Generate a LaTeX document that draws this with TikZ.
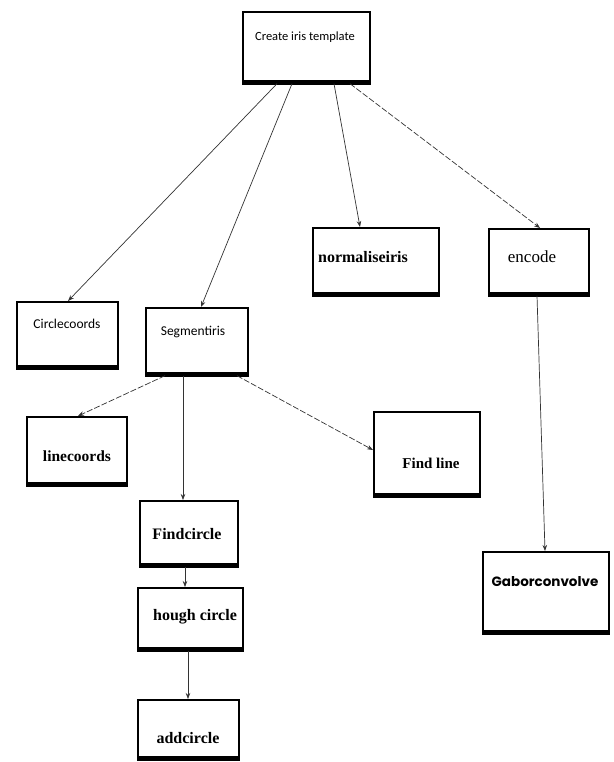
\documentclass[tikz,border=0pt]{standalone}
\usepackage{fontspec}
\setmainfont{Liberation Serif}
\newfontfamily\carl{Carlito}
\newfontfamily\gab{Poppins}
\usetikzlibrary{arrows.meta}
\begin{document}
\begin{tikzpicture}[x=1pt,y=-1pt,
  box/.style={draw=black,line width=2.2pt,fill=white,inner sep=0pt,anchor=north west},
  lab/.style={inner sep=0pt,anchor=base},
  conn/.style={draw=black!80,line width=0.7pt,-{Stealth[length=6pt,width=4.5pt]}},
  dconn/.style={conn,dash pattern=on 6pt off 2pt}]
\useasboundingbox (0,0) rectangle (613,762);
% boxes
\node[box,minimum width=127pt,minimum height=69pt] (create) at (242,11) {};
\node[box,minimum width=101pt,minimum height=64pt] (circ) at (16,301) {};
\node[box,minimum width=102pt,minimum height=65pt] (seg) at (145,307) {};
\node[box,minimum width=126pt,minimum height=65pt] (norm) at (312,227) {};
\node[box,minimum width=100pt,minimum height=64pt] (enc) at (488,228) {};
\node[box,minimum width=100pt,minimum height=66pt] (linec) at (26,416) {};
\node[box,minimum width=106pt,minimum height=82pt] (findl) at (373,411) {};
\node[box,minimum width=98pt,minimum height=63pt] (findc) at (139,500) {};
\node[box,minimum width=105pt,minimum height=60pt] (hough) at (137,587) {};
\node[box,minimum width=101pt,minimum height=57pt] (addc) at (137,699) {};
\node[box,minimum width=126pt,minimum height=79pt] (gabor) at (482,551) {};
% thick bottoms
\foreach \n in {create,circ,seg,norm,enc,linec,findl,findc,hough,addc,gabor}
  \draw[line width=3.5pt] ([yshift=-0.8pt]\n.south west) -- ([yshift=-0.8pt]\n.south east);
% labels
\node[lab,font=\carl\fontsize{12.5}{14}\selectfont] (tcreate) at (305,41) {Create iris template};
\node[lab,font=\carl\fontsize{13.5}{15}\selectfont] (tcirc) at (67,328) {Circlecoords};
\node[lab,font=\carl\fontsize{13.5}{15}\selectfont] (tseg) at (193,335) {Segmentiris};
\node[lab,font=\bfseries\fontsize{16}{18}\selectfont] (tnorm) at (363,262) {normaliseiris};
\node[lab,font=\fontsize{17}{19}\selectfont] (tenc) at (532,262) {encode};
\node[lab,font=\bfseries\fontsize{15.5}{17}\selectfont] (tlinec) at (77,461) {linecoords};
\node[lab,font=\bfseries\fontsize{15}{17}\selectfont] (tfindl) at (431,468) {Find line};
\node[lab,font=\bfseries\fontsize{16}{18}\selectfont] (tfindc) at (187,539) {Findcircle};
\node[lab,font=\bfseries\fontsize{16}{18}\selectfont] (though) at (195,620) {hough circle};
\node[lab,font=\bfseries\fontsize{16}{18}\selectfont] (taddc) at (188,743) {addcircle};
\node[lab,font=\gab\bfseries\fontsize{13.5}{16}\selectfont] (tgabor) at (545,586) {Gaborconvolve};
% connectors
\draw[conn] ([xshift=35pt,yshift=-1.5pt]create.south west) -- ([xshift=52pt]circ.north west);
\draw[conn] ([xshift=50pt,yshift=-1.5pt]create.south west) -- ([xshift=56pt]seg.north west);
\draw[conn] ([xshift=92pt,yshift=-1.5pt]create.south west) -- ([xshift=48pt]norm.north west);
\draw[dconn] ([xshift=108pt,yshift=-1.5pt]create.south west) -- ([xshift=52pt]enc.north west);
\draw[conn] ([xshift=49pt,yshift=-1.5pt]enc.south west) -- ([xshift=63pt]gabor.north west);
\draw[dconn] ([xshift=20pt,yshift=-1.5pt]seg.south west) -- ([xshift=52pt]linec.north west);
\draw[conn] ([xshift=38pt,yshift=-1.5pt]seg.south west) -- ([xshift=44pt]findc.north west);
\draw[dconn] ([xshift=92pt,yshift=-1.5pt]seg.south west) -- ([yshift=-39pt]findl.north west);
\draw[conn] ([xshift=46pt,yshift=-1.5pt]findc.south west) -- ([xshift=48pt]hough.north west);
\draw[conn] ([xshift=51pt,yshift=-1.5pt]hough.south west) -- ([xshift=51pt]addc.north west);
\end{tikzpicture}
\end{document}
